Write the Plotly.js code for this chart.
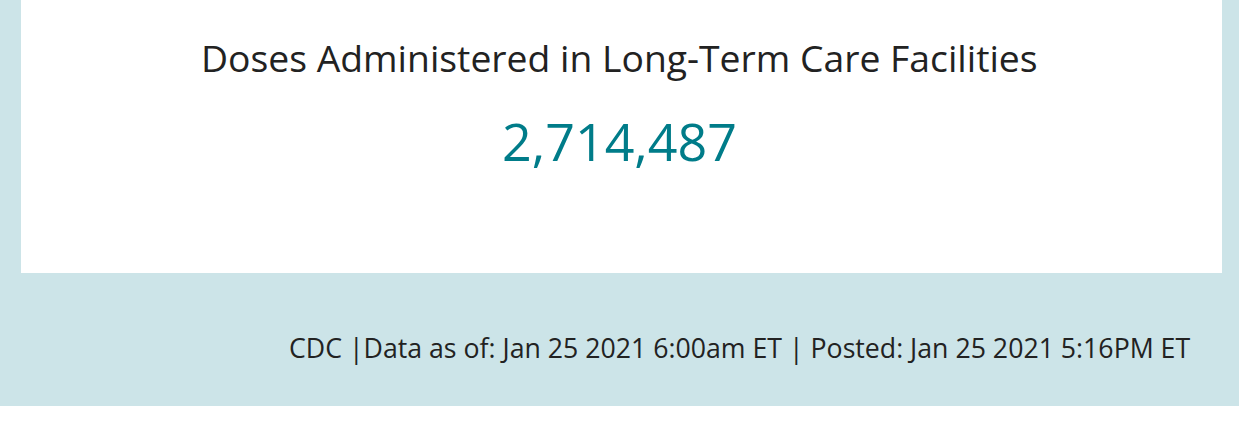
<!DOCTYPE html>
<html>
<head>
<meta charset="utf-8">
<script src="https://cdn.plot.ly/plotly-3.0.1.min.js"></script>
<style>html,body{margin:0;padding:0;background:#fff;}#chart{width:1239px;height:438px;}</style>
</head>
<body>
<div id="chart"></div>
<script>
const chartTitle = "Doses Administered in Long-Term Care Facilities";
const dosesValue = 2714487;
const footerText = "CDC |Data as of: Jan 25 2021 6:00am ET | Posted: Jan 25 2021 5:16PM ET";

const trace = {
  type: "indicator",
  mode: "number",
  value: dosesValue,
  number: {valueformat: ",d", font: {family: "Open Sans", size: 52, color: "#007c89"}},
  domain: {x: [0, 1], y: [0.5546, 0.8046]}
};

const layout = {
  width: 1239, height: 438,
  margin: {l: 0, r: 0, t: 0, b: 0},
  paper_bgcolor: "#ffffff",
  font: {family: "Open Sans"},
  shapes: [
    {type: "rect", xref: "paper", yref: "paper", x0: 0, x1: 1, y0: 0.0731, y1: 1, fillcolor: "#cce4e8", line: {width: 0}, layer: "below"},
    {type: "rect", xref: "paper", yref: "paper", x0: 0.01695, x1: 0.98628, y0: 0.3767, y1: 1, fillcolor: "#ffffff", line: {width: 0}, layer: "below"}
  ],
  annotations: [
    {text: chartTitle, xref: "paper", yref: "paper", x: 0.5, y: 0.8676, xanchor: "center", yanchor: "middle", showarrow: false, font: {family: "Open Sans", size: 37.3, color: "#222222"}},
    {text: footerText, xref: "paper", yref: "paper", x: 0.962, y: 0.2055, xanchor: "right", yanchor: "middle", showarrow: false, font: {family: "Open Sans", size: 26.7, color: "#222222"}}
  ]
};

Plotly.newPlot("chart", [trace], layout, {displayModeBar: false, staticPlot: true});
</script>
</body>
</html>
